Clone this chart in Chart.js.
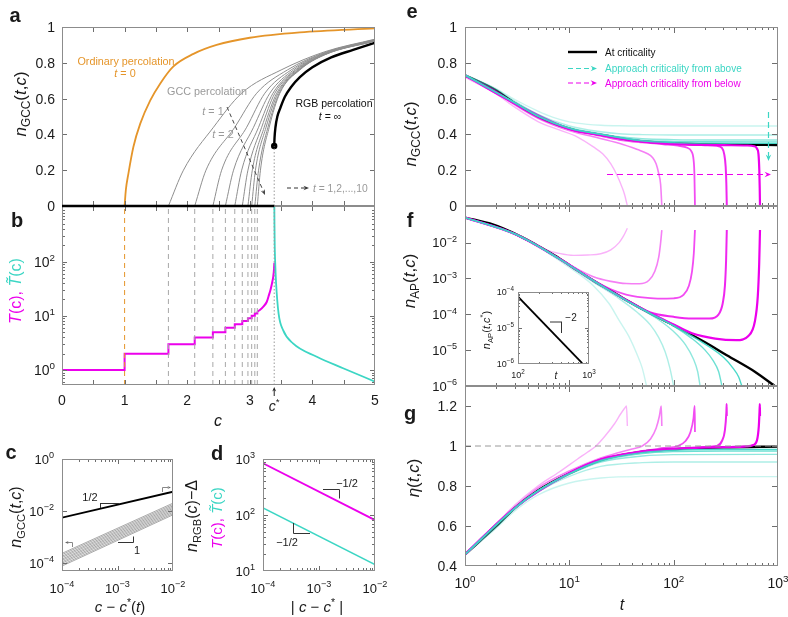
<!DOCTYPE html>
<html>
<head>
<meta charset="utf-8">
<title>GCC and RGB percolation</title>
<script src="https://cdn.jsdelivr.net/npm/chart.js@4.4.1/dist/chart.umd.min.js"></script>
<style>
  body { margin: 0; background: #fff; }
  #fig { position: relative; width: 788px; height: 617px; overflow: hidden; }
  #fig canvas { position: absolute; left: 0; top: 0; }
</style>
</head>
<body>
<div id="fig"></div>
<script>
// ---------- values ----------

// a: n_GCC(t,c) against c
const cStar = 3.39;
const ordC = [1, 1.02, 1.06, 1.14, 1.25, 1.41, 1.57, 1.78, 2.1, 2.47, 3.0, 3.8, 5.0];
const ordN = [0, 0.09, 0.18, 0.33, 0.46, 0.59, 0.685, 0.78, 0.85, 0.9, 0.94, 0.97, 0.992];
const gccLevels = [0, 0.2, 0.44, 0.63, 0.76];            // n_GCC where the c values below were read
const gccC0  = [1.70, 2.12, 2.41, 2.61, 2.76, 2.88, 2.97, 3.03, 3.08, 3.12];
const gccC20 = [1.94, 2.30, 2.55, 2.74, 2.87, 2.97, 3.04, 3.09, 3.14, 3.17];
const gccC44 = [2.42, 2.76, 2.95, 3.06, 3.14, 3.19, 3.23, 3.26, 3.29, 3.31];
const gccC63 = [2.87, 3.11, 3.24, 3.32, 3.37, 3.40, 3.43, 3.45, 3.47, 3.48];
const gccC76 = [3.50, 3.60, 3.66, 3.70, 3.73, 3.75, 3.77, 3.78, 3.79, 3.80];
const gccTailC = [4.2, 5];
const gccN42 = [0.862, 0.858, 0.855, 0.852, 0.85, 0.849, 0.848, 0.847, 0.846, 0.845];
const gccN50 = [0.932, 0.93, 0.928, 0.927, 0.926, 0.925, 0.924, 0.923, 0.922, 0.921];
const rgbC = [3.39, 3.395, 3.41, 3.44, 3.49, 3.56, 3.66, 3.8, 4.0, 4.3, 4.65, 5.0];
const rgbN = [0.335, 0.38, 0.44, 0.50, 0.55, 0.61, 0.665, 0.72, 0.775, 0.83, 0.872, 0.912];

// b: T(c) and T~(c)
const stepC = [0, 1, 1.70, 2.12, 2.41, 2.61, 2.76, 2.88, 2.97, 3.03, 3.08, 3.12];
const stepT = [1, 2, 3, 4, 5, 6, 7, 8, 9, 10, 11, 12];
const riseC = [3.12, 3.16, 3.22, 3.27, 3.30, 3.33, 3.355, 3.375, 3.385, 3.392];
const riseT = [12, 12.8, 15, 18, 23, 30, 40, 53, 68, 95];
const tilC = [3.392, 3.394, 3.398, 3.405, 3.42, 3.46, 3.53, 3.69, 4.07, 4.5, 5.0];
const tilT = [1100, 500, 200, 100, 40, 11, 5.5, 3.1, 1.76, 1.07, 0.61];

// c: scaling near c*(t) and c*
const cDx = [1e-4, 1e-2];
const cRgb = [0.0055, 0.055];
const cGcc0 = [2.34e-4, 2.09e-4, 1.82e-4, 1.62e-4, 1.41e-4, 1.26e-4, 1.10e-4, 9.8e-5, 8.5e-5, 7.6e-5];
const cGcc1 = [0.0200, 0.0178, 0.0158, 0.0141, 0.0126, 0.0112, 0.0100, 0.0089, 0.0079, 0.0071];

// d: T(c), T~(c) against |c - c*|
const dDx = [1e-4, 1e-2];
const dT = [840, 81];
const dTtil = [134, 13];

// e: n_GCC(t,c) against t
const eBlkT = [1, 2, 3, 5, 8, 12, 17, 25, 35, 50, 75, 150, 400, 1000];
const eBlkN = [0.73, 0.645, 0.575, 0.5, 0.45, 0.42, 0.405, 0.388, 0.372, 0.362, 0.354, 0.346, 0.342, 0.341];
const eMagT = [
  [1, 2, 3, 5, 8, 12, 17, 21, 25, 29, 32, 34, 35, 36],
  [1, 2, 3, 5, 8, 12, 17, 30, 45, 55, 63, 68, 72, 75, 77],
  [1, 2, 3, 5, 8, 12, 17, 30, 50, 80, 110, 135, 148, 155, 158, 160],
  [1, 3, 10, 20, 50, 100, 200, 260, 290, 305, 315, 320, 323],
  [1, 3, 10, 20, 50, 100, 300, 500, 590, 630, 650, 662, 668, 672]
];
const eMagN = [
  [0.72, 0.625, 0.552, 0.472, 0.425, 0.385, 0.33, 0.29, 0.235, 0.165, 0.105, 0.06, 0.03, 0],
  [0.725, 0.635, 0.565, 0.49, 0.44, 0.408, 0.387, 0.35, 0.315, 0.295, 0.27, 0.235, 0.18, 0.12, 0],
  [0.728, 0.64, 0.57, 0.495, 0.447, 0.416, 0.4, 0.37, 0.355, 0.345, 0.337, 0.325, 0.305, 0.26, 0.18, 0],
  [0.73, 0.572, 0.43, 0.396, 0.36, 0.347, 0.34, 0.336, 0.325, 0.29, 0.22, 0.12, 0],
  [0.73, 0.574, 0.432, 0.398, 0.361, 0.347, 0.34, 0.338, 0.334, 0.32, 0.29, 0.2, 0.1, 0]
];
const eCyaT = [
  [1, 2, 3, 5, 7, 10, 15, 20, 30, 50, 100, 1000],
  [1, 2, 3, 5, 10, 20, 30, 50, 100, 1000],
  [1, 3, 5, 10, 20, 30, 50, 100, 200, 1000],
  [1, 3, 5, 10, 20, 50, 100, 200, 1000],
  [1, 3, 5, 10, 20, 50, 100, 200, 1000]
];
const eCyaN = [
  [0.735, 0.655, 0.595, 0.53, 0.495, 0.47, 0.456, 0.451, 0.448, 0.447, 0.447, 0.447],
  [0.733, 0.65, 0.585, 0.512, 0.447, 0.415, 0.404, 0.399, 0.397, 0.397],
  [0.732, 0.578, 0.505, 0.437, 0.404, 0.387, 0.376, 0.371, 0.369, 0.369],
  [0.731, 0.577, 0.502, 0.435, 0.401, 0.366, 0.361, 0.359, 0.358],
  [0.731, 0.576, 0.501, 0.434, 0.4, 0.364, 0.354, 0.351, 0.35]
];

// f: n_AP(t,c) against t
const fBlkT = [1, 1.87, 3, 4.36, 6, 8.1, 12, 17, 25, 35.5, 60, 100, 200, 323, 600, 1000];
const fBlkN = [0.05, 0.0316, 0.0178, 0.0102, 0.006, 0.00355, 0.00166, 8.7e-4, 4.5e-4, 2.45e-4, 1.05e-4, 4.9e-5, 1.66e-5, 7.2e-6, 2.5e-6, 8.5e-7];
const fMagT = [
  [1, 3, 5, 6, 8, 11, 15, 20, 25, 30, 33, 36],
  [1, 3, 8, 12, 17, 25, 35, 47, 58, 66, 72, 75, 77],
  [1, 3, 8, 17, 25, 35, 50, 70, 100, 125, 140, 150, 156, 160],
  [1, 3, 8, 17, 35, 60, 100, 150, 220, 270, 295, 310, 318, 323],
  [1, 3, 8, 17, 35, 60, 100, 150, 250, 400, 520, 600, 640, 660, 672]
];
const fMagN = [
  [0.05, 0.0174, 0.0085, 0.0063, 0.005, 0.0044, 0.0045, 0.0049, 0.0063, 0.01, 0.0151, 0.0251],
  [0.05, 0.0174, 0.00363, 0.00182, 0.00112, 8.3e-4, 7.2e-4, 7.1e-4, 8.9e-4, 0.00158, 0.004, 0.01, 0.0224],
  [0.05, 0.0174, 0.00355, 8.9e-4, 5e-4, 3.55e-4, 2.95e-4, 2.75e-4, 2.8e-4, 3.55e-4, 6.3e-4, 0.00158, 0.005, 0.0224],
  [0.05, 0.0174, 0.00355, 8.7e-4, 2.5e-4, 1.12e-4, 8.5e-5, 7.6e-5, 7.6e-5, 1e-4, 2e-4, 6.3e-4, 0.00316, 0.0224],
  [0.05, 0.0174, 0.00355, 8.7e-4, 2.5e-4, 1.07e-4, 5.2e-5, 2.95e-5, 2.1e-5, 1.9e-5, 2.5e-5, 6.3e-5, 3.16e-4, 0.0025, 0.0224]
];
const fCyaT = [
  [1, 3, 5, 8, 12, 17, 24, 30, 37, 44, 50, 55],
  [1, 3, 8, 17, 30, 45, 60, 72, 83, 92, 100],
  [1, 3, 8, 17, 35, 70, 100, 130, 155, 170, 179],
  [1, 3, 8, 17, 35, 60, 100, 150, 200, 240, 270, 290],
  [1, 3, 8, 17, 35, 60, 100, 200, 300, 370, 420, 450]
];
const fCyaN = [
  [0.05, 0.017, 0.0079, 0.00316, 0.00141, 6.3e-4, 2e-4, 6.8e-5, 2.5e-5, 8.3e-6, 3.16e-6, 1e-6],
  [0.05, 0.0174, 0.00347, 7.9e-4, 2.75e-4, 1.12e-4, 5e-5, 2.24e-5, 8.9e-6, 3.16e-6, 1e-6],
  [0.05, 0.0174, 0.00355, 8.7e-4, 2.4e-4, 7.4e-5, 3.3e-5, 1.41e-5, 5.6e-6, 2.5e-6, 1e-6],
  [0.05, 0.0174, 0.00355, 8.7e-4, 2.45e-4, 1.05e-4, 4.7e-5, 2.1e-5, 1e-5, 5e-6, 2.5e-6, 1e-6],
  [0.05, 0.0174, 0.00355, 8.7e-4, 2.45e-4, 1.05e-4, 4.8e-5, 1.48e-5, 6.3e-6, 3.16e-6, 1.78e-6, 1e-6]
];
const insT = [100, 800];
const insN = [7.4e-5, 1.05e-6];

// g: eta(t,c) against t
const gBlkT = [1, 2, 3, 5, 10, 20, 50, 100, 300, 1000];
const gBlkE = [0.458, 0.60, 0.69, 0.777, 0.863, 0.93, 0.972, 0.984, 0.993, 0.997];
const gMagT = [
  [1, 2, 3, 5, 8, 12, 15, 18, 22, 27, 31, 34, 35.3, 36],
  [1, 3, 5, 10, 20, 30, 40, 50, 60, 68, 73, 76, 77],
  [1, 3, 10, 20, 50, 80, 110, 130, 145, 155, 159, 160],
  [1, 3, 10, 20, 50, 100, 200, 260, 290, 310, 320, 322, 323],
  [1, 3, 10, 20, 50, 100, 300, 500, 580, 630, 655, 665, 670, 672]
];
const gMagE = [
  [0.462, 0.612, 0.705, 0.80, 0.87, 0.935, 0.97, 1.0, 1.05, 1.11, 1.16, 1.19, 1.2, 1.1],
  [0.46, 0.695, 0.79, 0.875, 0.94, 0.967, 0.985, 1.0, 1.035, 1.09, 1.15, 1.2, 1.1],
  [0.459, 0.692, 0.866, 0.935, 0.975, 0.99, 1.0, 1.025, 1.07, 1.14, 1.2, 1.07],
  [0.458, 0.69, 0.864, 0.932, 0.972, 0.986, 0.995, 1.0, 1.025, 1.08, 1.17, 1.21, 1.15],
  [0.458, 0.69, 0.863, 0.93, 0.971, 0.985, 0.994, 0.998, 1.005, 1.03, 1.1, 1.17, 1.21, 1.15]
];
const gCyaT = [
  [1, 2, 3, 5, 10, 20, 50, 100, 1000],
  [1, 2, 3, 5, 10, 20, 50, 100, 1000],
  [1, 3, 5, 10, 20, 50, 100, 1000],
  [1, 3, 5, 10, 20, 50, 100, 300, 1000],
  [1, 3, 5, 10, 20, 50, 100, 300, 1000]
];
const gCyaE = [
  [0.455, 0.59, 0.675, 0.755, 0.815, 0.84, 0.847, 0.847, 0.847],
  [0.457, 0.598, 0.685, 0.77, 0.848, 0.898, 0.917, 0.92, 0.92],
  [0.458, 0.688, 0.775, 0.858, 0.92, 0.95, 0.957, 0.958],
  [0.458, 0.689, 0.776, 0.861, 0.925, 0.962, 0.972, 0.975, 0.975],
  [0.458, 0.69, 0.777, 0.862, 0.928, 0.967, 0.978, 0.983, 0.983]
];

// tick labels
const linTicksA = [0, 0.2, 0.4, 0.6, 0.8, 1];
const linTicksG = [0.4, 0.6, 0.8, 1, 1.2];
const cTicksB = [0, 1, 2, 3, 4, 5];
const decB = [1, 10, 100];
const decC = [1e-4, 1e-2, 1];
const decCx = [1e-4, 1e-3, 1e-2];
const decD = [10, 100, 1000];
const decT = [1, 10, 100, 1000];
const decF = [1e-6, 1e-5, 1e-4, 1e-3, 1e-2];
const decIns = [1e-6, 1e-5, 1e-4];
const decInsX = [100, 1000];

// ---------- drawing ----------
const W = 788, H = 617;
const FONT = '"Liberation Sans", Arial, Helvetica, sans-serif';
const MAG = 'rgb(236,0,236)';
const CYA = 'rgb(60,214,196)';
const ORANGE = '#e5952a';
const magA = [0.3, 0.5, 0.7, 0.85, 1];
const cyaA = [0.28, 0.42, 0.58, 0.75, 0.92];
const mag = a => 'rgba(236,0,236,' + a + ')';
const cya = a => 'rgba(60,214,196,' + a + ')';

function rich(ctx, x, y, parts, size, align, rot, color) {
  ctx.save();
  ctx.translate(x, y);
  if (rot) ctx.rotate(rot);
  const items = parts.map(p => {
    const o = typeof p === 'string' ? { t: p } : p;
    const s = (o.sub || o.sup) ? size * 0.7 : size;
    const f = (o.i ? 'italic ' : '') + (o.b ? 'bold ' : '') + s.toFixed(1) + 'px ' + FONT;
    ctx.font = f;
    return { o, f, w: ctx.measureText(o.t).width, dy: o.sub ? size * 0.25 : o.sup ? -size * 0.42 : 0 };
  });
  const total = items.reduce((s, it) => s + it.w, 0);
  let cx = align === 'center' ? -total / 2 : align === 'right' ? -total : 0;
  ctx.textAlign = 'left';
  ctx.textBaseline = 'alphabetic';
  for (const it of items) {
    ctx.font = it.f;
    ctx.fillStyle = it.o.c || color || '#1a1a1a';
    ctx.fillText(it.o.t, cx, size * 0.36 + it.dy);
    cx += it.w;
  }
  ctx.restore();
}

function seg(ctx, x1, y1, x2, y2) {
  ctx.beginPath(); ctx.moveTo(x1, y1); ctx.lineTo(x2, y2); ctx.stroke();
}

function head(ctx, x1, y1, x2, y2, size, color) {
  const a = Math.atan2(y2 - y1, x2 - x1);
  ctx.save();
  ctx.fillStyle = color;
  ctx.beginPath();
  ctx.moveTo(x2, y2);
  ctx.lineTo(x2 - size * Math.cos(a - 0.4), y2 - size * Math.sin(a - 0.4));
  ctx.lineTo(x2 - size * 0.6 * Math.cos(a), y2 - size * 0.6 * Math.sin(a));
  ctx.lineTo(x2 - size * Math.cos(a + 0.4), y2 - size * Math.sin(a + 0.4));
  ctx.closePath();
  ctx.fill();
  ctx.restore();
}

function dashArrow(ctx, x1, y1, x2, y2, color, dash, size, width) {
  ctx.save();
  ctx.strokeStyle = color;
  ctx.lineWidth = width || 1;
  ctx.setLineDash(dash);
  const a = Math.atan2(y2 - y1, x2 - x1);
  seg(ctx, x1, y1, x2 - size * 0.6 * Math.cos(a), y2 - size * 0.6 * Math.sin(a));
  ctx.setLineDash([]);
  head(ctx, x1, y1, x2, y2, size, color);
  ctx.restore();
}

const pow10 = v => {
  const e = Math.round(Math.log10(v));
  return ['10', { t: e < 0 ? '\u2212' + (-e) : String(e), sup: true }];
};
const num = v => [String(v)];
const logMinor = (lo, hi) => {
  const out = [];
  for (let e = lo; e < hi; e++) for (let m = 2; m <= 9; m++) out.push(m * Math.pow(10, e));
  return out;
};

function pts(xs, ys) { return xs.map((x, i) => ({ x: x, y: ys[i] })); }
function ln(xs, ys, color, width, more) {
  return Object.assign({ data: pts(xs, ys), borderColor: color, borderWidth: width, pointRadius: 0,
    fill: false, cubicInterpolationMode: 'monotone' }, more || {});
}
const straight = { cubicInterpolationMode: 'default', tension: 0 };

function framePlugin(spec) {
  return {
    id: 'frame',
    beforeDatasetsDraw(chart) {
      if (!spec.white) return;
      const a = chart.chartArea, ctx = chart.ctx;
      ctx.save();
      ctx.fillStyle = '#fff';
      ctx.fillRect(a.left, a.top, a.right - a.left, a.bottom - a.top);
      ctx.restore();
    },
    afterDatasetsDraw(chart) {
      const ctx = chart.ctx, a = chart.chartArea;
      const xs = chart.scales.x, ys = chart.scales.y;
      ctx.save();
      ctx.strokeStyle = '#6e6e6e';
      ctx.lineWidth = 1;
      const mark = (list, len, horiz) => (list || []).forEach(v => {
        if (horiz) {
          const p = Math.round(xs.getPixelForValue(v)) + 0.5;
          seg(ctx, p, a.bottom, p, a.bottom - len);
          seg(ctx, p, a.top, p, a.top + len);
        } else {
          const p = Math.round(ys.getPixelForValue(v)) + 0.5;
          seg(ctx, a.left, p, a.left + len, p);
          seg(ctx, a.right, p, a.right - len, p);
        }
      });
      const big = spec.big || 5, small = spec.small || 3;
      mark(spec.xMaj, big, true);
      mark(spec.xMin, small, true);
      mark(spec.yMaj, big, false);
      mark(spec.yMin, small, false);
      ctx.strokeStyle = '#8c8c8c';
      ctx.strokeRect(a.left + 0.5, a.top + 0.5, a.right - a.left - 1, a.bottom - a.top - 1);
      if (spec.over) spec.over(ctx, chart, xs, ys);
      (spec.yLab || []).forEach(([v, parts]) =>
        rich(ctx, a.left - spec.yLabDx, ys.getPixelForValue(v), parts, spec.labSize, 'right'));
      (spec.xLab || []).forEach(([v, parts]) =>
        rich(ctx, xs.getPixelForValue(v), a.bottom + spec.xLabDy, parts, spec.labSize, 'center'));
      if (spec.extra) spec.extra(ctx, chart, xs, ys);
      ctx.restore();
    }
  };
}

const fig = document.getElementById('fig');
function panel(rect, xs, ys, datasets, spec) {
  const cv = document.createElement('canvas');
  cv.width = W;
  cv.height = H;
  fig.appendChild(cv);
  return new Chart(cv, {
    type: 'line',
    data: { datasets: datasets },
    options: {
      responsive: false,
      animation: false,
      events: [],
      layout: { padding: { left: rect[0], top: rect[1], right: W - rect[2], bottom: H - rect[3] } },
      plugins: { legend: { display: false }, tooltip: { enabled: false } },
      scales: { x: Object.assign({ display: false }, xs), y: Object.assign({ display: false }, ys) },
      elements: { point: { radius: 0 } }
    },
    plugins: [framePlugin(spec)]
  });
}

// ----- b (drawn first so that panel a's baseline sits on top of the shared border) -----
const bSets = [];
bSets.push(ln([1, 1], [0.53, 1060], ORANGE, 1, Object.assign({ borderDash: [5, 4] }, straight)));
for (let k = 0; k < gccC0.length; k++) {
  bSets.push(ln([gccC0[k], gccC0[k]], [0.53, 1060], '#a8a8a8', 1, Object.assign({ borderDash: [5, 4] }, straight)));
}
bSets.push(ln([cStar, cStar], [0.53, 1060], '#999', 1, Object.assign({ borderDash: [1.5, 2] }, straight)));
bSets.push(ln(tilC, tilT, CYA, 1.8));
bSets.push(ln(stepC, stepT, MAG, 2, { stepped: true, cubicInterpolationMode: 'default' }));
bSets.push(ln(riseC, riseT, MAG, 2));

panel([62, 206, 375, 385],
  { type: 'linear', min: 0, max: 5 }, { type: 'logarithmic', min: 0.53, max: 1060 }, bSets, {
    xMaj: [0.5, 1, 1.5, 2, 2.5, 3, 3.5, 4, 4.5], yMaj: [1, 10, 100],
    yMin: logMinor(-1, 3).filter(v => v > 0.53 && v < 1060),
    yLab: decB.map(v => [v, pow10(v)]), yLabDx: 7, labSize: 14,
    xLab: cTicksB.map(v => [v, num(v)]), xLabDy: 15,
    extra(ctx, chart, xs) {
      const p = xs.getPixelForValue(cStar);
      ctx.strokeStyle = '#222';
      ctx.lineWidth = 1;
      seg(ctx, p, 396, p, 390);
      head(ctx, p, 396, p, 387, 5, '#222');
      rich(ctx, p, 406, [{ t: 'c', i: true }, { t: '*', sup: true }], 14, 'center');
    }
  });

// ----- a -----
const aSets = [];
for (let k = 0; k < 10; k++) {
  aSets.push(ln([gccC0[k], gccC20[k], gccC44[k], gccC63[k], gccC76[k]].concat(gccTailC),
    gccLevels.concat([gccN42[k], gccN50[k]]), '#8e8e8e', 1));
}
aSets.push(ln(ordC, ordN, ORANGE, 1.8));
aSets.push(ln([cStar, cStar], [0, rgbN[0]], '#999', 1, Object.assign({ borderDash: [1.5, 2] }, straight)));
aSets.push(ln(rgbC, rgbN, '#000', 2.4));
aSets.push({ data: pts([cStar], [rgbN[0]]), showLine: false, pointRadius: 3.2,
  pointBackgroundColor: '#000', pointBorderWidth: 0 });

panel([62, 27, 375, 206],
  { type: 'linear', min: 0, max: 5 }, { type: 'linear', min: 0, max: 1 }, aSets, {
    xMaj: [0.5, 1, 1.5, 2, 2.5, 3, 3.5, 4, 4.5], yMaj: [0.2, 0.4, 0.6, 0.8], big: 5,
    yLab: linTicksA.map(v => [v, num(v)]), yLabDx: 7, labSize: 14,
    over(ctx, chart, xs, ys) {
      // n_GCC = 0 below c*, drawn over the frame line
      ctx.save();
      ctx.strokeStyle = '#000';
      ctx.lineWidth = 2.6;
      seg(ctx, xs.getPixelForValue(0), ys.getPixelForValue(0), xs.getPixelForValue(cStar), ys.getPixelForValue(0));
      ctx.restore();
    },
    extra(ctx) {
      rich(ctx, 126, 61, ['Ordinary percolation'], 10.8, 'center', 0, ORANGE);
      rich(ctx, 125, 73, [{ t: 't', i: true }, ' = 0'], 10.8, 'center', 0, ORANGE);
      rich(ctx, 207, 91, ['GCC percolation'], 10.8, 'center', 0, '#9a9a9a');
      rich(ctx, 213, 111, [{ t: 't', i: true }, ' = 1'], 10.8, 'center', 0, '#9a9a9a');
      rich(ctx, 223, 134, [{ t: 't', i: true }, ' = 2'], 10.8, 'center', 0, '#9a9a9a');
      dashArrow(ctx, 227, 107, 265, 195, '#444', [4, 3], 6, 1);
      rich(ctx, 334, 103, ['RGB percolation'], 10.5, 'center', 0, '#111');
      rich(ctx, 330, 116, [{ t: 't', i: true }, ' = \u221e'], 10.5, 'center', 0, '#111');
      dashArrow(ctx, 287, 188, 309, 188, '#333', [4, 3], 6, 1);
      rich(ctx, 313, 188, [{ t: 't', i: true }, ' = 1,2,...,10'], 10.3, 'left', 0, '#9a9a9a');
    }
  });

// ----- c -----
const cSets = [];
for (let k = 0; k < cGcc0.length; k++) cSets.push(ln(cDx, [cGcc0[k], cGcc1[k]], '#a9a9a9', 1, straight));
cSets.push(ln(cDx, cRgb, '#000', 1.8, straight));

panel([62, 459, 173, 571],
  { type: 'logarithmic', min: 1e-4, max: 1e-2 }, { type: 'logarithmic', min: 4.9e-5, max: 1 }, cSets, {
    xMaj: [1e-3], xMin: logMinor(-4, -2), yMaj: [1e-4, 1e-2], big: 5,
    yLab: decC.map(v => [v, pow10(v)]), yLabDx: 8, labSize: 13,
    xLab: decCx.map(v => [v, pow10(v)]), xLabDy: 17,
    extra(ctx) {
      ctx.strokeStyle = '#333';
      ctx.lineWidth = 1;
      seg(ctx, 100, 503.5, 119, 503.5); seg(ctx, 100.5, 503.5, 100.5, 508);
      rich(ctx, 90, 497, ['1/2'], 11, 'center');
      seg(ctx, 118, 542.5, 133.5, 542.5); seg(ctx, 133.5, 536.5, 133.5, 542.5);
      rich(ctx, 137, 550, ['1'], 11, 'center');
      ctx.strokeStyle = '#888';
      seg(ctx, 72.5, 542.5, 72.5, 547); seg(ctx, 72.5, 542.5, 67, 542.5);
      head(ctx, 72, 542.5, 65, 542.5, 4, '#666');
      seg(ctx, 162.5, 487.5, 162.5, 492); seg(ctx, 162.5, 487.5, 168, 487.5);
      head(ctx, 163, 487.5, 171, 487.5, 4, '#666');
    }
  });

// ----- d -----
panel([263, 459, 375, 571],
  { type: 'logarithmic', min: 1e-4, max: 1e-2 }, { type: 'logarithmic', min: 10, max: 1000 }, [
    ln(dDx, dT, MAG, 1.8, straight),
    ln(dDx, dTtil, CYA, 1.6, straight)
  ], {
    xMaj: [1e-3], xMin: logMinor(-4, -2), yMaj: [100], yMin: logMinor(1, 3),
    yLab: decD.map(v => [v, pow10(v)]), yLabDx: 8, labSize: 13,
    xLab: decCx.map(v => [v, pow10(v)]), xLabDy: 17,
    extra(ctx) {
      ctx.strokeStyle = '#333';
      ctx.lineWidth = 1;
      seg(ctx, 323, 489.5, 339.5, 489.5); seg(ctx, 339.5, 489.5, 339.5, 498.5);
      rich(ctx, 347, 483, ['\u22121/2'], 11, 'center');
      seg(ctx, 293.5, 523, 293.5, 533.5); seg(ctx, 293.5, 533.5, 310, 533.5);
      rich(ctx, 287, 542, ['\u22121/2'], 11, 'center');
    }
  });

// ----- e -----
const tMinor = logMinor(0, 3);
const eSets = [];
for (let k = 0; k < 5; k++) eSets.push(ln(eCyaT[k], eCyaN[k], cya(cyaA[k]), 1.4));
for (let k = 0; k < 5; k++) eSets.push(ln(eMagT[k], eMagN[k], mag(magA[k]), 1.4 + 0.2 * k));
eSets.push(ln(eBlkT, eBlkN, '#000', 2.4));

panel([465, 27, 778, 206],
  { type: 'logarithmic', min: 1, max: 1000 }, { type: 'linear', min: 0, max: 1 }, eSets, {
    xMaj: [10, 100], xMin: tMinor, yMaj: [0.2, 0.4, 0.6, 0.8], big: 6,
    yLab: linTicksA.map(v => [v, num(v)]), yLabDx: 8, labSize: 14,
    extra(ctx) {
      ctx.lineWidth = 2.4;
      ctx.strokeStyle = '#000';
      seg(ctx, 568, 52, 597, 52);
      rich(ctx, 605, 52, ['At criticality'], 10, 'left', 0, '#111');
      dashArrow(ctx, 568, 68.5, 597, 68.5, CYA, [5, 3], 7, 1.2);
      rich(ctx, 605, 68.5, ['Approach criticality from above'], 10, 'left', 0, CYA);
      dashArrow(ctx, 568, 83, 597, 83, MAG, [5, 3], 7, 1.2);
      rich(ctx, 605, 83, ['Approach criticality from below'], 10, 'left', 0, MAG);
      dashArrow(ctx, 768.5, 112, 768.5, 161, CYA, [6, 4], 7, 1.2);
      dashArrow(ctx, 607, 174.5, 771, 174.5, MAG, [6, 4], 7, 1.2);
    }
  });

// ----- f -----
const fSets = [];
for (let k = 0; k < 5; k++) fSets.push(ln(fCyaT[k], fCyaN[k], cya(cyaA[k]), 1.4));
for (let k = 0; k < 5; k++) fSets.push(ln(fMagT[k], fMagN[k], mag(magA[k]), 1.4 + 0.2 * k));
fSets.push(ln(fBlkT, fBlkN, '#000', 2.4));

panel([465, 206, 778, 386],
  { type: 'logarithmic', min: 1, max: 1000 }, { type: 'logarithmic', min: 1e-6, max: 0.105 }, fSets, {
    xMaj: [10, 100], xMin: tMinor, yMaj: [1e-5, 1e-4, 1e-3, 1e-2], big: 6,
    yLab: decF.map(v => [v, pow10(v)]), yLabDx: 8, labSize: 13
  });

// ----- g -----
const gSets = [];
gSets.push(ln([1, 1000], [1, 1], '#9a9a9a', 1, Object.assign({ borderDash: [6, 4] }, straight)));
for (let k = 0; k < 5; k++) gSets.push(ln(gCyaT[k], gCyaE[k], cya(cyaA[k]), 1.4));
for (let k = 0; k < 5; k++) gSets.push(ln(gMagT[k], gMagE[k], mag(magA[k]), 1.4 + 0.2 * k));
gSets.push(ln(gBlkT, gBlkE, '#000', 2.4));

panel([465, 386, 778, 566],
  { type: 'logarithmic', min: 1, max: 1000 }, { type: 'linear', min: 0.4, max: 1.3 }, gSets, {
    xMaj: [10, 100], xMin: tMinor, yMaj: [0.6, 0.8, 1, 1.2], big: 6,
    yLab: linTicksG.map(v => [v, num(v)]), yLabDx: 8, labSize: 14,
    xLab: decT.map(v => [v, pow10(v)]), xLabDy: 17
  });

// ----- inset of f -----
panel([518, 292, 589, 364],
  { type: 'logarithmic', min: 100, max: 1000 }, { type: 'logarithmic', min: 1e-6, max: 1e-4 }, [
    ln(insT, insN, '#000', 1.8, straight)
  ], {
    white: true, xMin: logMinor(2, 3), yMaj: [1e-5], yMin: logMinor(-6, -4), big: 4, small: 2,
    yLab: decIns.map(v => [v, pow10(v)]), yLabDx: 4, labSize: 9,
    xLab: decInsX.map(v => [v, pow10(v)]), xLabDy: 11,
    extra(ctx) {
      ctx.strokeStyle = '#333';
      ctx.lineWidth = 1;
      seg(ctx, 550, 322, 562, 322); seg(ctx, 561.5, 322, 561.5, 333);
      rich(ctx, 571, 317, ['\u22122'], 10, 'center');
      rich(ctx, 556, 375, [{ t: 't', i: true }], 10, 'center');
    }
  });

// ----- letters and axis titles -----
const ov = document.createElement('canvas');
ov.width = W;
ov.height = H;
fig.appendChild(ov);
const o = ov.getContext('2d');
const UP = -Math.PI / 2;
[['a', 15, 15], ['b', 17, 220], ['c', 11, 452], ['d', 217, 453], ['e', 412, 11], ['f', 410, 220], ['g', 410, 413]]
  .forEach(([s, x, y]) => rich(o, x, y, [{ t: s, b: true }], 20, 'center'));
const nGcc = [{ t: 'n', i: true }, { t: 'GCC', sub: true }, '(', { t: 't', i: true }, ',', { t: 'c', i: true }, ')'];
const tPair = [{ t: 'T', i: true, c: MAG }, { t: '(c), ', c: MAG }, { t: 'T\u0303', i: true, c: CYA }, { t: '(c)', c: CYA }];
rich(o, 20, 104, nGcc, 17, 'center', UP);
rich(o, 15, 291, tPair, 16, 'center', UP);
rich(o, 15, 517, nGcc, 16, 'center', UP);
rich(o, 191, 516, [{ t: 'n', i: true }, { t: 'RGB', sub: true }, '(', { t: 'c', i: true }, ')\u2212\u0394'], 16, 'center', UP);
rich(o, 217, 518, tPair, 15, 'center', UP);
rich(o, 410, 134, nGcc, 17, 'center', UP);
rich(o, 409, 281, [{ t: 'n', i: true }, { t: 'AP', sub: true }, '(', { t: 't', i: true }, ',', { t: 'c', i: true }, ')'], 17, 'center', UP);
rich(o, 413, 478, [{ t: '\u03b7', i: true }, '(', { t: 't', i: true }, ',', { t: 'c', i: true }, ')'], 17, 'center', UP);
rich(o, 486, 330, [{ t: 'n', i: true }, { t: 'AP', sub: true }, '(', { t: 't', i: true }, ',', { t: 'c', i: true }, { t: '*', sup: true }, ')'], 11, 'center', UP);
rich(o, 218, 420, [{ t: 'c', i: true }], 16, 'center');
rich(o, 622, 604, [{ t: 't', i: true }], 16, 'center');
rich(o, 120, 607, [{ t: 'c', i: true }, ' \u2212 ', { t: 'c', i: true }, { t: '*', sup: true }, '(', { t: 't', i: true }, ')'], 15, 'center');
rich(o, 317, 607, ['| ', { t: 'c', i: true }, ' \u2212 ', { t: 'c', i: true }, { t: '*', sup: true }, ' |'], 15, 'center');
</script>
</body>
</html>
